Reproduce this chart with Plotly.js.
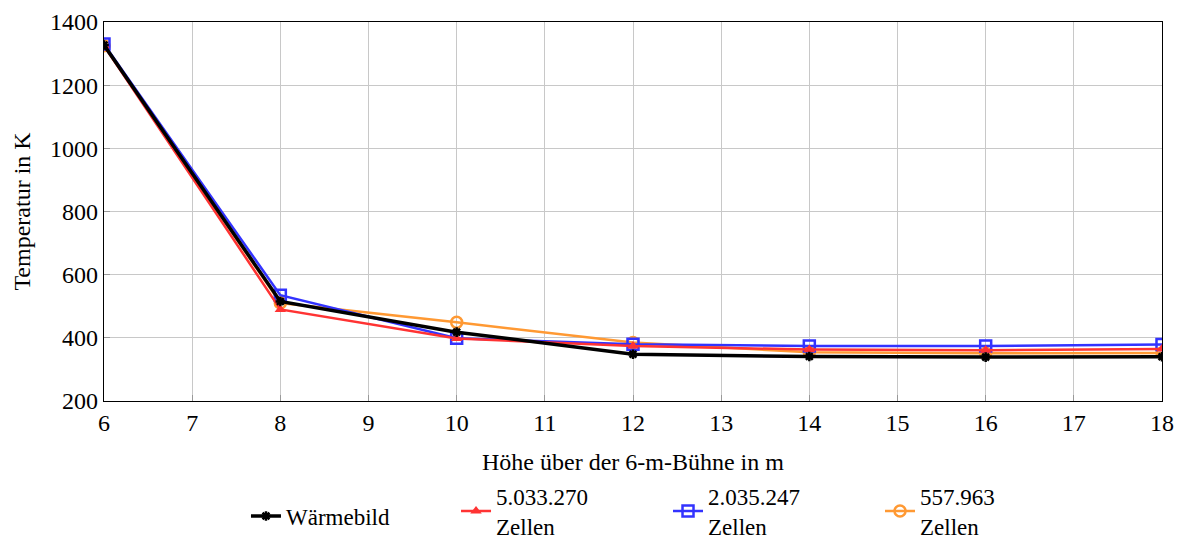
<!DOCTYPE html>
<html><head><meta charset="utf-8">
<script src="https://cdn.plot.ly/plotly-3.0.1.min.js"></script>
<style>html,body{margin:0;padding:0;background:#fff;}#chart{width:1186px;height:542px;}</style>
</head><body><div id="chart"></div>
<script>
const heights = [6, 8, 10, 12, 14, 16, 18];
const waermebild = [1327, 515, 418, 348, 341, 339, 340];
const zellen5033270 = [1325, 490, 398, 374, 363, 361, 365];
const zellen2035247 = [1330, 535, 399, 380, 374, 374, 379];
const zellen557963 = [1325, 510, 449, 385, 354, 351, 352];
const seriesNames = ["Wärmebild", "5.033.270<br>Zellen", "2.035.247<br>Zellen", "557.963<br>Zellen"];
const xTicks = [6,7,8,9,10,11,12,13,14,15,16,17,18];
const yTicks = [200,400,600,800,1000,1200,1400];

const font = "Liberation Serif, DejaVu Serif, serif";
const traces = [
  {x: heights, y: zellen557963, name: seriesNames[3], mode: "lines+markers", legend: "legend2", legendrank: 3,
   line: {color: "#ff9933", width: 2.5}, marker: {symbol: "circle-open", size: 11, color: "#ff9933", line: {width: 2.5}}},
  {x: heights, y: zellen2035247, name: seriesNames[2], mode: "lines+markers", legend: "legend2", legendrank: 2,
   line: {color: "#3333ff", width: 2.5}, marker: {symbol: "square-open", size: 11, color: "#3333ff", line: {width: 2.5}}},
  {x: heights, y: zellen5033270, name: seriesNames[1], mode: "lines+markers", legend: "legend2", legendrank: 1,
   line: {color: "#ff3333", width: 2.5}, marker: {symbol: "triangle-up", size: 10, color: "#ff3333"}},
  {x: heights, y: waermebild, name: seriesNames[0], mode: "lines+markers", legend: "legend",
   line: {color: "#000000", width: 3.5}, marker: {symbol: "asterisk-open", size: 8, color: "#000000", line: {width: 2.5}}}
];
const legendCommon = {orientation: "h", xanchor: "left", xref: "container",
  yanchor: "middle", yref: "container", font: {family: font, size: 23}, valign: "middle",
  bgcolor: "rgba(0,0,0,0)"};
const layout = {
  width: 1186, height: 542,
  margin: {l: 104, r: 24, t: 22, b: 141, autoexpand: false},
  paper_bgcolor: "#fff", plot_bgcolor: "#fff",
  font: {family: font, size: 23, color: "#000"},
  showlegend: true,
  legend: Object.assign({}, legendCommon, {x: 0.2074, y: 0.048}),
  legend2: Object.assign({}, legendCommon, {x: 0.3845, y: 0.057, entrywidth: 167, traceorder: "normal"}),
  xaxis: {range: [6, 18], tickvals: xTicks, ticktext: xTicks.map(String),
    showgrid: true, gridcolor: "#c8c8c8", gridwidth: 1,
    showline: true, linecolor: "#000", linewidth: 1.2, mirror: true,
    ticks: "inside", ticklen: 6, tickcolor: "#999", zeroline: false,
    tickfont: {family: font, size: 24},
    title: {text: "Höhe über der 6-m-Bühne in m", font: {family: font, size: 24}, standoff: 28}},
  yaxis: {range: [200, 1400], tickvals: yTicks, ticktext: yTicks.map(String),
    showgrid: true, gridcolor: "#c8c8c8", gridwidth: 1,
    showline: true, linecolor: "#000", linewidth: 1.2, mirror: true,
    ticks: "inside", ticklen: 6, tickcolor: "#999", zeroline: false,
    tickfont: {family: font, size: 24},
    title: {text: "Temperatur in K", font: {family: font, size: 24}, standoff: 12}}
};
Plotly.newPlot("chart", traces, layout, {displayModeBar: false, staticPlot: true});
</script></body></html>
